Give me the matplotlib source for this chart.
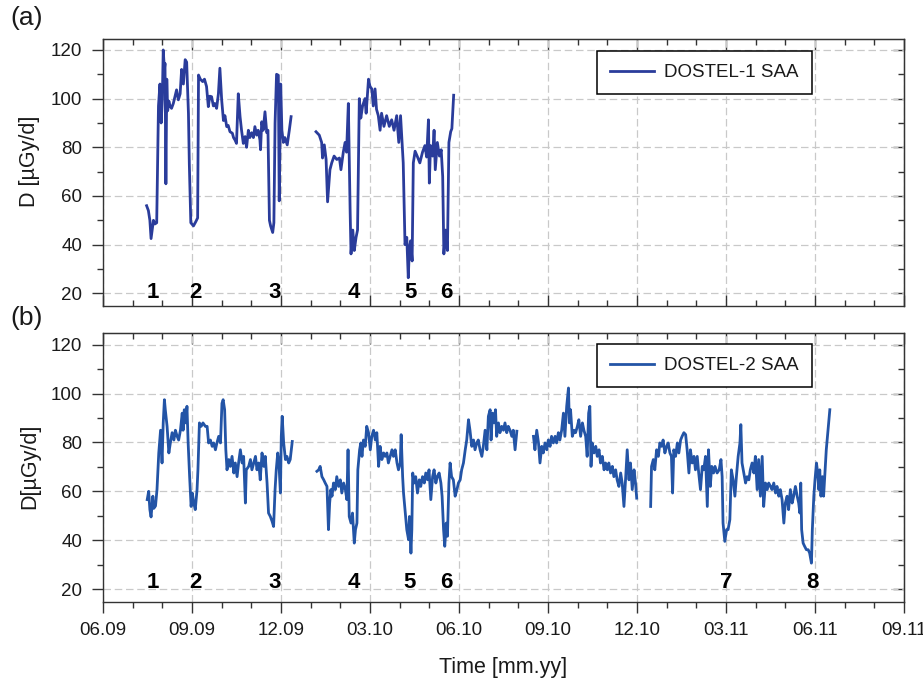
import matplotlib
matplotlib.use("Agg")
import matplotlib.pyplot as plt
from matplotlib.ticker import MultipleLocator

plt.rcParams['font.family'] = ['Liberation Sans', 'DejaVu Sans']

nan = float('nan')

# Time axis: months elapsed since June 2009
tick_months = [0, 3, 6, 9, 12, 15, 18, 21, 24, 27]
tick_labels = ["06.09", "09.09", "12.09", "03.10", "06.10",
               "09.10", "12.10", "03.11", "06.11", "09.11"]

# DOSTEL-1 daily SAA dose (gaps marked with nan)
t1 = [1.47, 1.53, 1.58, 1.62, 1.70, 1.75, 1.81, 1.87, 1.92, 1.96, 2.00, 2.03, 2.07, 2.09,
      2.12, 2.15, 2.18, 2.22, 2.26, 2.31, 2.37, 2.43, 2.48, 2.54, 2.60, 2.65, 2.71, 2.77,
      2.82, 2.85, 2.88, 2.91, 2.96, 3.05, 3.13, 3.19,
      3.22, 3.28, 3.36, 3.42, 3.49, 3.55, 3.60, 3.66, 3.72, 3.77, 3.83, 3.89, 3.94, 4.00,
      4.06, 4.11, 4.17, 4.22, 4.28, 4.36, 4.40, 4.45, 4.50, 4.56, 4.62, 4.67, 4.73, 4.79,
      4.84, 4.90, 4.95, 5.01, 5.07, 5.12, 5.18, 5.23, 5.29, 5.31, 5.35, 5.40, 5.46, 5.52,
      5.56,
      5.61, 5.65, 5.72, 5.76, 5.80, 5.85, 5.91, 5.94, 5.99, 6.03, 6.08, 6.13, 6.21, 6.28,
      6.34,
      6.70,
      7.18, 7.29, 7.37, 7.40, 7.46, 7.52, 7.57, 7.65, 7.71, 7.79, 7.88, 7.97, 8.02, 8.10,
      8.16, 8.21, 8.27, 8.33, 8.36, 8.42, 8.47, 8.53, 8.58, 8.64, 8.69, 8.75, 8.83, 8.87,
      8.91, 8.95, 9.00, 9.06, 9.11, 9.17, 9.22, 9.28, 9.34, 9.39, 9.47, 9.56, 9.65, 9.73,
      9.81, 9.90, 9.97, 10.03, 10.12, 10.18, 10.24, 10.29, 10.33, 10.37, 10.42, 10.46,
      10.52, 10.59, 10.68, 10.77, 10.85, 10.91, 10.97, 11.00, 11.04, 11.11, 11.16, 11.20,
      11.27, 11.34, 11.40, 11.45, 11.49, 11.55, 11.61, 11.66, 11.72, 11.76, 11.82]
d1 = [56, 54, 50, 42.5, 50, 48.5, 49, 97, 106, 90, 100, 120, 112, 114.5,
      65, 108, 95, 99, 97, 96, 98, 101, 103.6, 99.5, 102, 112, 106, 116,
      115, 105, 94, 73, 49, 47.7, 49.5, 51,
      109.7, 108, 107, 108, 105, 96.7, 101, 100.8, 97, 98, 96, 102, 112.5, 99.5,
      91, 93, 88.5, 89, 86.4, 85.8, 84, 83, 81.6, 102, 92.6, 87, 81.6, 84.4,
      80, 87, 84, 86, 84, 88.5, 85, 87, 83, 79, 90.5, 87, 94.6, 86,
      87,
      50, 47.7, 45, 49, 90, 110, 109.6, 58, 106, 87, 82, 84, 81, 87,
      92.6,
      nan,
      86.4, 85, 82, 75.6, 81, 75, 57.6, 70.8, 73.6, 76.4, 75, 75.6, 70.8, 78,
      82, 78, 98, 54, 36.2, 46, 37.6, 43, 46, 100, 92, 97, 100, 94,
      101, 108, 105, 104, 97, 104, 95.6, 93, 87, 94, 88.6, 93, 88.6, 91.3,
      87, 93, 82, 93, 73.6, 40, 43, 26.4, 39, 41.6, 33.3, 73.6,
      78.4, 76.4, 73.6, 78, 80.7, 76, 91.3, 65.3, 80.7, 76.4, 87, 70.8,
      82, 76.4, 79, 68, 36.2, 46, 37.6, 82, 86.4, 87.7, 101.4]

# DOSTEL-2 daily SAA dose (gaps marked with nan)
t2 = [1.49, 1.54, 1.58, 1.62, 1.68, 1.71, 1.77, 1.82, 1.88, 1.94, 1.99, 2.03, 2.07, 2.10,
      2.16, 2.22, 2.27, 2.33, 2.39, 2.44, 2.50, 2.55, 2.61, 2.67, 2.70, 2.74, 2.79, 2.83,
      2.87, 2.92, 2.97, 3.01, 3.06, 3.11, 3.17, 3.20, 3.25, 3.31, 3.37, 3.45, 3.51, 3.56,
      3.62, 3.68, 3.73, 3.79, 3.84, 3.90, 3.96, 4.01, 4.05, 4.10, 4.14, 4.18, 4.24, 4.29,
      4.35, 4.41, 4.46, 4.52, 4.57, 4.63, 4.69, 4.74, 4.80, 4.83, 4.91, 4.97, 5.02, 5.08,
      5.14, 5.19, 5.25, 5.30, 5.36, 5.42, 5.47, 5.53, 5.58, 5.64, 5.70, 5.75, 5.80, 5.84,
      5.89, 5.93, 5.98, 6.01, 6.04, 6.09, 6.15, 6.20, 6.26, 6.31, 6.38,
      6.80,
      7.21, 7.27, 7.32, 7.38, 7.44, 7.49, 7.55, 7.60, 7.64, 7.68, 7.72, 7.77, 7.83, 7.88,
      7.94, 8.00, 8.05, 8.11, 8.17, 8.22, 8.26, 8.30, 8.36, 8.41, 8.47, 8.51, 8.56, 8.59,
      8.65, 8.69, 8.73, 8.78, 8.84, 8.89, 8.95, 9.01, 9.06, 9.12, 9.18, 9.23, 9.29, 9.34,
      9.40, 9.46, 9.51, 9.57, 9.62, 9.68, 9.74, 9.79, 9.85, 9.91, 9.96, 10.02, 10.05, 10.10,
      10.13, 10.19, 10.24, 10.30, 10.33, 10.38, 10.41, 10.44, 10.49, 10.54, 10.60, 10.66,
      10.71, 10.77, 10.83, 10.88, 10.94, 10.99, 11.05, 11.11, 11.16, 11.22, 11.27, 11.33,
      11.39, 11.43, 11.48, 11.52, 11.57, 11.61, 11.66, 11.70, 11.75, 11.81, 11.87, 11.93,
      11.98, 12.04, 12.09, 12.15, 12.21, 12.26, 12.32, 12.37, 12.43, 12.49, 12.54, 12.60,
      12.65, 12.71, 12.77, 12.82, 12.88, 12.94, 12.99, 13.05, 13.08, 13.13, 13.18, 13.23,
      13.27, 13.33, 13.38, 13.44, 13.50, 13.55, 13.61, 13.66, 13.72, 13.78, 13.83, 13.89,
      13.95,
      14.20,
      14.51, 14.56, 14.62, 14.68, 14.73, 14.79, 14.84, 14.90, 14.96, 15.01, 15.07, 15.12,
      15.18, 15.24, 15.29, 15.35, 15.40, 15.46, 15.52, 15.57, 15.63, 15.69, 15.72, 15.76,
      15.82, 15.88, 15.93, 15.99, 16.04, 16.10, 16.16, 16.21, 16.27, 16.32, 16.37, 16.41,
      16.45, 16.49, 16.55, 16.61, 16.66, 16.72, 16.77, 16.83, 16.89, 16.94, 17.00, 17.05,
      17.11, 17.17, 17.22, 17.28, 17.33, 17.39, 17.45, 17.50, 17.56, 17.62, 17.67, 17.73,
      17.78, 17.84, 17.90, 17.95, 17.99,
      18.20,
      18.46, 18.49, 18.55, 18.60, 18.66, 18.72, 18.77, 18.83, 18.88, 18.94, 19.00, 19.05,
      19.11, 19.16, 19.20, 19.24, 19.30, 19.36, 19.41, 19.47, 19.52, 19.58, 19.64, 19.69,
      19.75, 19.80, 19.86, 19.92, 19.97, 20.03, 20.08, 20.14, 20.20, 20.25, 20.31, 20.37,
      20.41, 20.47, 20.52, 20.58, 20.63, 20.70, 20.77, 20.83, 20.87, 20.90, 20.96, 21.02,
      21.07, 21.13, 21.18, 21.24, 21.30, 21.35, 21.41, 21.47, 21.50, 21.54, 21.60, 21.66,
      21.71, 21.77, 21.82, 21.88, 21.94, 21.99, 22.05, 22.10, 22.16, 22.22, 22.27, 22.33,
      22.39, 22.44, 22.50, 22.55, 22.61, 22.67, 22.72, 22.78, 22.83, 22.89, 22.95, 23.00,
      23.06, 23.11, 23.17, 23.23, 23.28, 23.34, 23.40, 23.45, 23.49, 23.52, 23.55, 23.60,
      23.65, 23.71, 23.77, 23.82, 23.88, 23.91, 23.96, 24.00, 24.05, 24.09, 24.13, 24.16,
      24.20, 24.25, 24.29, 24.34, 24.38, 24.44, 24.50]
d2 = [56.6, 60, 52.5, 49.5, 58, 53, 54, 60.7, 75.7, 85, 71.6, 88, 97.5, 93.4,
      86.6, 75.7, 79.8, 84, 81, 85, 82.5, 81, 85, 92, 85, 93.4, 88, 94.8,
      79.8, 66, 53.8, 59.3, 55.2, 52.5, 60.7, 68.8, 88, 86.6, 88, 86.6, 86.6, 79.8,
      81, 78.4, 79.8, 77, 79.8, 82.5, 79.8, 96, 97.5, 93.4, 77, 68.8, 73, 70.2,
      74.3, 67.5, 71.6, 66, 71.6, 77, 71.6, 74.3, 55.2, 68.8, 70.2, 73, 68.8, 71.6,
      74.3, 68.8, 71.6, 64.7, 75.7, 70.2, 74.3, 63.4, 51.1, 49.7, 47.7, 45.6, 60.7, 68.8,
      75.7, 71.6, 59.3, 82.5, 90.7, 79.8, 73, 74.3, 71.6, 73, 80.4,
      nan,
      68.2, 68.8, 70.2, 66, 64.7, 63.4, 62, 44.3, 55.2, 60.7, 58, 63.4, 60.7, 66,
      62, 64.7, 59.3, 63.4, 60.7, 56.6, 77, 49.7, 47, 51.1, 38.8, 44.3, 47, 68.8,
      77, 79.8, 74.3, 81, 78.4, 86.6, 84, 77, 82.5, 85, 81, 84, 70.2, 78.4,
      73, 75.7, 74.3, 75.7, 71.6, 74.3, 77, 74.3, 77, 71.6, 68.8, 71.6, 83.2, 66,
      59.3, 51.1, 44.3, 40.2, 49.7, 34.7, 44.3, 67.5, 63.4, 66, 59.3, 64.7,
      62, 66, 63.4, 67.5, 64.7, 68.8, 56.6, 66, 68.8, 63.4, 66, 67.5,
      63.4, 58, 44.3, 37.5, 47, 41.6, 63.4, 71.6, 66, 64.7, 58, 60.7,
      63.4, 64.7, 68.8, 71.6, 77, 81, 89.3, 85, 78.4, 81, 77, 79.8,
      81, 77, 74.3, 78.4, 85, 77, 90.7, 93.4, 81, 92, 88, 93.4,
      82.5, 88, 84, 86.6, 85, 88, 84, 86.6, 85, 82.5, 85, 77,
      84.6,
      nan,
      82.5, 77, 85, 79.8, 71.6, 78.4, 75.7, 79.8, 77, 81, 78.4, 82.5,
      79.8, 82.5, 79.8, 84, 81, 85, 92, 82.5, 94.8, 102.3, 88, 93.4,
      82.5, 85, 84, 86.6, 89.3, 82.5, 88, 85, 82.5, 74.3, 92, 94.8,
      70.2, 79.8, 75.7, 78.4, 74.3, 77, 71.6, 74.3, 68.8, 71.6, 68.8, 71.6,
      67.5, 70.2, 66, 68.8, 64.7, 62, 67.5, 63.4, 53.8, 66, 77, 64.7,
      71.6, 60.7, 68.8, 63.4, 57.2,
      nan,
      53.8, 70.2, 73, 68.8, 77, 74.3, 79.8, 78.4, 81, 75.7, 78.4, 79.8,
      75.7, 74.3, 59.3, 77, 74.3, 79.8, 75.7, 81, 82.5, 84, 83.2, 77,
      67.5, 77, 71.6, 74.3, 68.8, 74.3, 67.5, 60.7, 70.2, 68.8, 74.3, 53.8,
      77, 62, 70.2, 67.5, 70.2, 67.5, 68.8, 73, 66, 47, 39.5, 44.3,
      44.3, 48.4, 68.8, 64.7, 58, 66, 74.3, 79.8, 87.3, 71.6, 67.5, 63.4,
      66, 64.7, 68.8, 71.6, 67.5, 74.3, 60.7, 73, 58, 74.3, 53.8, 63.4,
      60.7, 63.4, 62, 60.7, 63.4, 59.3, 62, 58, 60.7, 56.6, 47, 55.2,
      58, 52.5, 60.7, 55.2, 58, 62, 58, 55.2, 51.1, 63.4, 44.3, 38.8,
      37.5, 36.1, 36.1, 34.7, 30.6, 44.3, 58, 64.7, 71.6, 67.5, 60.7, 68.8,
      58, 66, 58, 68.8, 77, 85, 93.4]

# Numbered SAA minima events
events1 = ["1", "2", "3", "4", "5", "6"]
event_t1 = [1.69, 3.13, 5.80, 8.46, 10.35, 11.56]
events2 = ["1", "2", "3", "4", "5", "6", "7", "8"]
event_t2 = [1.67, 3.11, 5.77, 8.46, 10.32, 11.56, 21.02, 23.92]

W, H = 923, 690
fig = plt.figure(figsize=(W / 100, H / 100), dpi=100)
ax1 = fig.add_axes([103 / W, 1 - 306 / H, 801 / W, 267 / H])
ax2 = fig.add_axes([103 / W, 1 - 601.5 / H, 801 / W, 268.5 / H])

spine_c = '#333333'
text_c = '#1a1a1a'


def style(ax, ylim, bottom_dir, show_xlabels):
    ax.set_xlim(0, 27)
    ax.set_ylim(*ylim)
    ax.set_xticks(tick_months)
    ax.set_xticklabels(tick_labels)
    ax.xaxis.set_minor_locator(MultipleLocator(1))
    ax.set_yticks(range(20, 121, 20))
    ax.yaxis.set_minor_locator(MultipleLocator(10))
    ax.grid(True, which='major', color='#c9c9c9', linestyle=(0, (6, 3)), linewidth=0.9)
    ax.set_axisbelow(True)
    for s in ax.spines.values():
        s.set_color(spine_c)
        s.set_linewidth(1.0)
    ax.tick_params(axis='y', which='both', direction='out', left=True, right=False,
                   labelsize=13.5, pad=7, color=spine_c, labelcolor=text_c, width=1.0)
    ax.tick_params(axis='y', which='major', length=8)
    ax.tick_params(axis='y', which='minor', length=4)
    ax.tick_params(axis='x', which='both', direction=bottom_dir, top=False,
                   labelsize=13.5, pad=7, color=spine_c, labelcolor=text_c,
                   width=1.0, labelbottom=show_xlabels)
    ax.tick_params(axis='x', which='major', length=8)
    ax.tick_params(axis='x', which='minor', length=4)

    right = ax.secondary_yaxis('right')
    right.set_yticks(range(20, 121, 20))
    right.yaxis.set_minor_locator(MultipleLocator(10))
    right.tick_params(which='both', direction='in', labelright=False, color=spine_c, width=1.0)
    right.tick_params(which='major', length=8)
    right.tick_params(which='minor', length=4)
    right.spines['right'].set_color(spine_c)

    top = ax.secondary_xaxis('top')
    top.set_xticks(tick_months)
    top.xaxis.set_minor_locator(MultipleLocator(1))
    top.tick_params(which='both', direction='in', labeltop=False, color=spine_c, width=1.0)
    top.tick_params(which='major', length=8)
    top.tick_params(which='minor', length=4)
    top.spines['top'].set_color(spine_c)


style(ax1, (14.8, 124.5), 'in', False)
style(ax2, (14.9, 124.8), 'out', True)

ax1.plot(t1, d1, color='#2a3c9b', linewidth=2.0, label='DOSTEL-1 SAA')
ax2.plot(t2, d2, color='#2354a6', linewidth=2.0, label='DOSTEL-2 SAA')

for lab, t in zip(events1, event_t1):
    ax1.text(t, 18.0, lab, ha='center', va='baseline', fontsize=16, fontweight='bold',
             color='black')
for lab, t in zip(events2, event_t2):
    ax2.text(t, 20.3, lab, ha='center', va='baseline', fontsize=16, fontweight='bold',
             color='black')

for ax, y in ((ax1, 51), (ax2, 344)):
    leg = ax.legend(loc='upper left', bbox_to_anchor=(597 / W, 1 - y / H),
                    bbox_transform=fig.transFigure, fontsize=13.5, frameon=True,
                    fancybox=False, edgecolor='black', framealpha=1, borderpad=0.7,
                    handlelength=2.35, handletextpad=0.55, borderaxespad=0)
    leg.get_frame().set_linewidth(1.1)
    for txt in leg.get_texts():
        txt.set_color(text_c)

ax1.set_ylabel("D [µGy/d]", fontsize=15.5, color=text_c)
ax1.yaxis.set_label_coords((30 - 103) / 801, (306 - 161) / 267)
ax1.yaxis.label.set_va('center')
ax2.set_ylabel("D[µGy/d]", fontsize=15.5, color=text_c)
ax2.yaxis.set_label_coords((30 - 103) / 801, (601.5 - 466) / 268.5)
ax2.yaxis.label.set_va('center')
ax2.set_xlabel("Time [mm.yy]", fontsize=15.5, color=text_c)
ax2.xaxis.set_label_coords(0.4994, (601.5 - 668) / 268.5)
ax2.xaxis.label.set_va('center')

fig.text(27 / W, 1 - 18 / H, "(a)", fontsize=19, ha='center', va='center', color=text_c)
fig.text(27 / W, 1 - 318 / H, "(b)", fontsize=19, ha='center', va='center', color=text_c)

fig.savefig("out.png", dpi=100)
